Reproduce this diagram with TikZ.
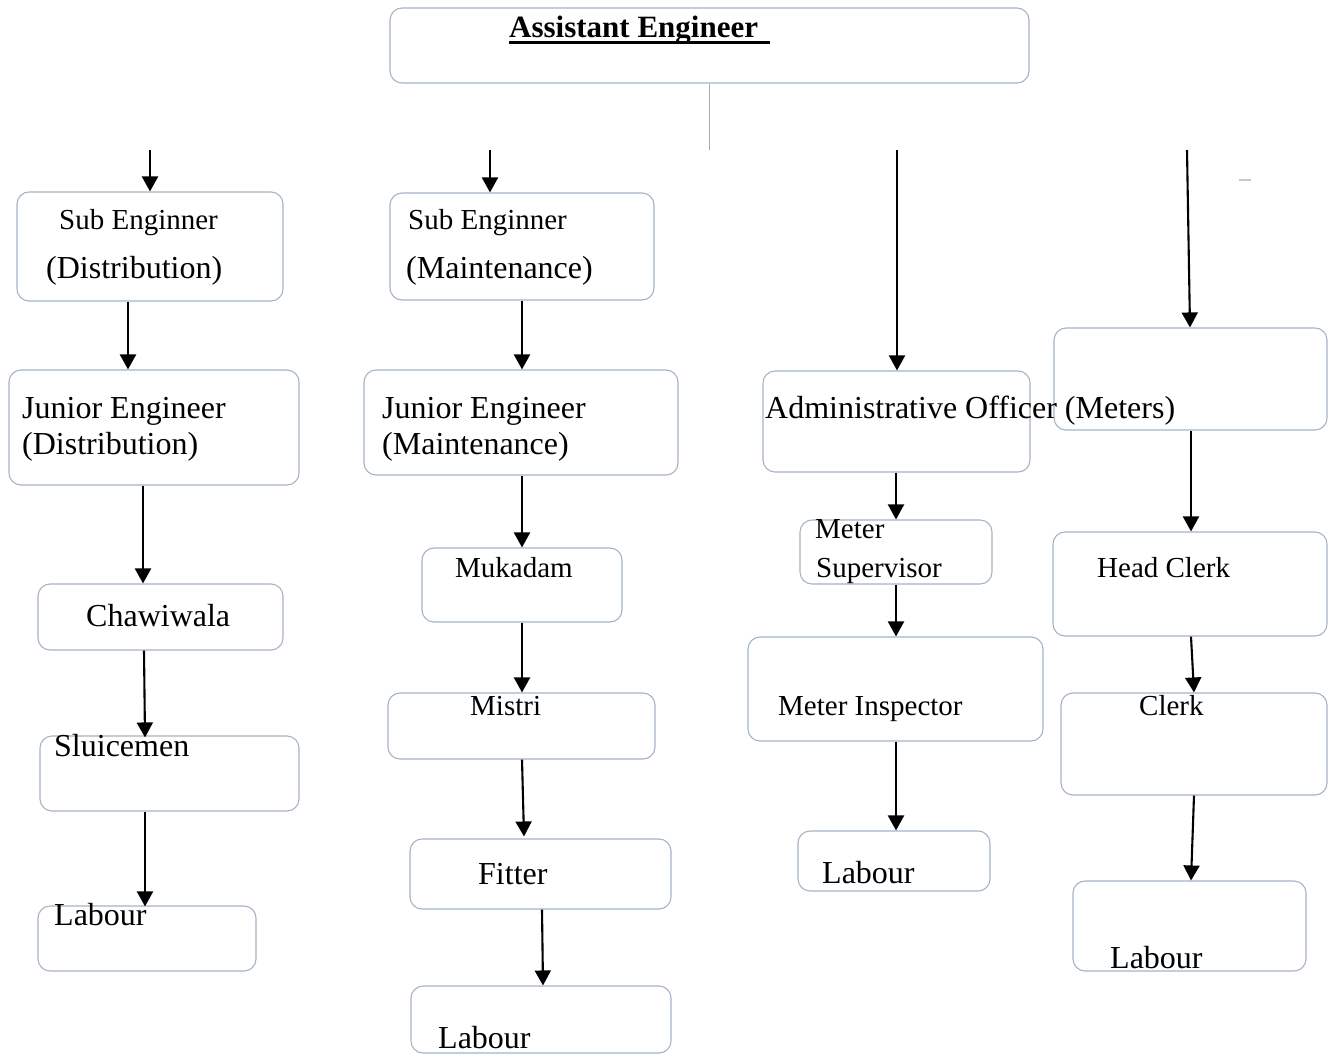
\documentclass[tikz,border=0pt]{standalone}
\usepackage{fontspec}
\setmainfont{Liberation Serif}
\usetikzlibrary{arrows.meta}
\definecolor{boxc}{RGB}{165,180,196}
\definecolor{linec}{RGB}{170,170,170}
\definecolor{dashc}{RGB}{200,200,200}
\tikzset{
  orgbox/.style={draw=boxc, line width=1.1pt, rounded corners=12pt, inner sep=0pt},
  bigtxt/.style={font=\fontsize{32}{38}\selectfont, inner sep=0pt, anchor=base west},
  smalltxt/.style={font=\fontsize{29}{34}\selectfont, inner sep=0pt, anchor=base west},
  arr/.style={line width=2.1pt, -{Triangle[width=16pt,length=15pt]}},
}
\newcommand\bx[5]{\node[orgbox, minimum width={#4-#2}, minimum height={#5-#3}] (#1) at ({(#2+#4)/2},{(#3+#5)/2}) {};}
\begin{document}
\begin{tikzpicture}[x=1pt,y=-1pt]
\useasboundingbox (0,0) rectangle (1338,1054);
% boxes
\bx{ae}{390}{8}{1029}{83}
\bx{se1}{17}{192}{283}{301}
\bx{je1}{9}{370}{299}{485}
\bx{ch}{38}{584}{283}{650}
\bx{sl}{40}{736}{299}{811}
\bx{lb1}{38}{906}{256}{971}
\bx{se2}{390}{193}{654}{300}
\bx{je2}{364}{370}{678}{475}
\bx{mk}{422}{548}{622}{622}
\bx{mi}{388}{693}{655}{759}
\bx{fi}{410}{839}{671}{909}
\bx{lb2}{411}{986}{671}{1053}
\bx{ao}{763}{371}{1030}{472}
\bx{ms}{800}{520}{992}{584}
\bx{mI}{748}{637}{1043}{741}
\bx{lb3}{798}{831}{990}{891}
\bx{bx4}{1054}{328}{1327}{430}
\bx{hc}{1053}{532}{1327}{636}
\bx{cl}{1061}{693}{1327}{795}
\bx{lb4}{1073}{881}{1306}{971}
% texts
\node[bigtxt, font=\fontsize{31}{37}\selectfont\bfseries] (tae) at (509,38) {Assistant Engineer};
\draw[line width=3pt] ([yshift=-4.5pt]tae.base west) -- ([xshift=12pt,yshift=-4.5pt]tae.base east);
\node[smalltxt] (tse1a) at (59,229) {Sub Enginner};
\node[bigtxt] (tse1b) at (46,278) {(Distribution)};
\node[bigtxt] (tje1a) at (22,418) {Junior Engineer};
\node[bigtxt] (tje1b) at (22,454) {(Distribution)};
\node[bigtxt] (tch) at (86,626) {Chawiwala};
\node[bigtxt] (tsl) at (54,756) {Sluicemen};
\node[bigtxt] (tlb1) at (54,925) {Labour};
\node[smalltxt] (tse2a) at (408,229) {Sub Enginner};
\node[bigtxt] (tse2b) at (406,278) {(Maintenance)};
\node[bigtxt] (tje2a) at (382,418) {Junior Engineer};
\node[bigtxt] (tje2b) at (382,454) {(Maintenance)};
\node[smalltxt] (tmk) at (455,577) {Mukadam};
\node[smalltxt] (tmi) at (470,715) {Mistri};
\node[bigtxt] (tfi) at (478,884) {Fitter};
\node[bigtxt] (tlb2) at (438,1048) {Labour};
\node[bigtxt] (tao) at (765,418) {Administrative Officer (Meters)};
\node[smalltxt] (tmsa) at (815,538) {Meter};
\node[smalltxt] (tmsb) at (816,577) {Supervisor};
\node[smalltxt] (tmI) at (778,715) {Meter Inspector};
\node[bigtxt] (tlb3) at (822,883) {Labour};
\node[smalltxt] (thc) at (1097,577) {Head Clerk};
\node[smalltxt] (tcl) at (1139,715) {Clerk};
\node[bigtxt] (tlb4) at (1110,968) {Labour};
% free ends
\coordinate (t1) at (150,150);
\coordinate (t2) at (490,150);
\coordinate (t3) at (897,150);
\coordinate (t4) at (1187,150);
\coordinate (g) at (710,150);
% connectors
\draw[linec, line width=1pt] (ae.south) -- (ae.south |- g);
\draw[dashc, line width=1.2pt] (1239,180) -- (1251,180);
\draw[arr] (t1) -- (se1.north);
\draw[arr] ([xshift=-22pt]se1.south) -- ([xshift=-26pt]je1.north);
\draw[arr] ([xshift=-11pt]je1.south) -- ([xshift=-17.5pt]ch.north);
\draw[arr] ([xshift=-16.5pt]ch.south) -- ([xshift=-24.5pt,yshift=-2pt]sl.north);
\draw[arr] ([xshift=-24.5pt]sl.south) -- ([xshift=-2pt,yshift=-1pt]lb1.north);
\draw[arr] (t2) -- ([xshift=-32pt]se2.north);
\draw[arr] (se2.south) -- ([xshift=1pt]je2.north);
\draw[arr] ([xshift=1pt]je2.south) -- (mk.north);
\draw[arr] (mk.south) -- ([xshift=0.5pt]mi.north);
\draw[arr] ([xshift=0.5pt]mi.south) -- ([xshift=-16.5pt,yshift=2pt]fi.north);
\draw[arr] ([xshift=1.5pt]fi.south) -- ([xshift=2pt]lb2.north);
\draw[arr] (t3) -- ([xshift=0.5pt]ao.north);
\draw[arr] ([xshift=-0.5pt]ao.south) -- (ms.north);
\draw[arr] (ms.south) -- ([xshift=0.5pt]mI.north);
\draw[arr] ([xshift=0.5pt]mI.south) -- ([xshift=2pt]lb3.north);
\draw[arr] (t4) -- ([xshift=-0.5pt]bx4.north);
\draw[arr] ([xshift=0.5pt]bx4.south) -- ([xshift=1pt]hc.north);
\draw[arr] ([xshift=1pt]hc.south) -- (cl.north);
\draw[arr] (cl.south) -- ([xshift=1.5pt]lb4.north);
\end{tikzpicture}
\end{document}
